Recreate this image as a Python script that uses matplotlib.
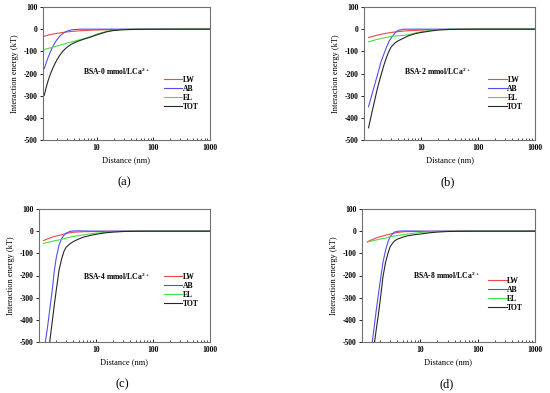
import matplotlib
matplotlib.use("Agg")
import matplotlib.pyplot as plt
from matplotlib.ticker import FixedLocator, LogLocator, NullFormatter

plt.rcParams['font.family'] = ['Liberation Serif', 'DejaVu Serif']
plt.rcParams['font.weight'] = 'bold'
plt.rcParams['axes.unicode_minus'] = False
plt.rcParams['mathtext.fontset'] = 'custom'
plt.rcParams['mathtext.rm'] = 'Liberation Serif:bold'
plt.rcParams['mathtext.bf'] = 'Liberation Serif:bold'

# --- distance grid (nm), shared by all panels ---
dist = [1.2, 1.3, 1.4, 1.55, 1.7, 1.85, 2, 2.25, 2.5, 2.75, 3, 3.5, 4,
        5, 6, 8, 10, 15, 20, 30, 50, 100, 1000]

# --- (a) BSA-0 mmol/L Ca2+ ---
lw_a = [-32, -29.5, -27, -24.5, -22, -20.5, -19, -17, -15, -13.7, -12.5, -10.7, -9.4,
        -7.5, -6.2, -4.7, -3.7, -2.5, -1.9, -1.2, -0.7, -0.4, 0]
ab_a = [-178, -151, -128, -100, -78, -61, -48, -32, -21, -14, -9, -4, -2,
        -0.3, 0, 0, 0, 0, 0, 0, 0, 0, 0]
el_a = [-92, -89, -87, -84, -81, -78.5, -76, -72.5, -69, -66, -63, -59, -55,
        -48, -43, -33, -23, -10, -5, -1.5, -0.3, 0, 0]
tot_a = [-298, -262, -233, -200, -176, -156, -139, -118, -102, -91, -82, -70, -62,
         -52, -45, -35, -26, -12, -6, -2.5, -1, -0.3, 0]

# --- (b) BSA-2 mmol/L Ca2+ ---
lw_b = [-38, -35.5, -33, -30, -27, -25, -23, -20.5, -18, -16.5, -15, -12.5, -11,
        -8.5, -7, -5.3, -4.2, -2.8, -2, -1.3, -0.8, -0.4, 0]
ab_b = [-350, -318, -288, -248, -211, -177, -145, -110, -80, -55, -40, -17, -5,
        -0.5, 0, 0, 0, 0, 0, 0, 0, 0, 0]
el_b = [-57, -54.5, -52, -49, -46, -44, -42, -39.5, -37, -35, -33, -31, -30,
        -28, -25, -17, -12, -5, -2, -0.5, 0, 0, 0]
tot_b = [-445, -405, -368, -318, -272, -236, -205, -160, -125, -98, -80, -62, -52,
         -40, -30, -20, -15, -8, -4, -1.5, -0.5, 0, 0]

# --- (c) BSA-4 mmol/L Ca2+ ---
lw_c = [-42, -38.5, -35, -31, -27, -24.5, -22, -19, -16, -13, -10, -7, -5,
        -3.5, -2.5, -1.8, -1.3, -0.8, -0.5, -0.3, 0, 0, 0]
ab_c = [-560, -495, -440, -350, -270, -183, -122, -62, -33, -18, -9, -1, 1,
        1.5, 1, 0.5, 0, 0, 0, 0, 0, 0, 0]
el_c = [-55, -53, -51, -48.5, -46, -44, -42, -39.5, -37, -34, -31, -27, -24,
        -20, -17, -12, -9, -5, -3, -1.2, -0.3, 0, 0]
tot_c = [-730, -655, -590, -495, -412, -335, -270, -175, -125, -90, -72, -57, -47,
         -35, -27, -19, -14, -7, -4, -1.5, -0.5, 0, 0]

# --- (d) BSA-8 mmol/L Ca2+ ---
lw_d = [-48, -44, -40, -35.5, -31, -28, -25, -21.5, -18, -15.5, -13, -9, -6,
        -3, -2, -1.3, -1, -0.6, -0.4, -0.2, 0, 0, 0]
ab_d = [-673, -605, -540, -450, -366, -295, -232, -140, -85, -48, -25, -5, -0.5,
        1, 1, 0.5, 0, 0, 0, 0, 0, 0, 0]
el_d = [-49, -47, -45, -42.5, -40, -38, -36, -33.5, -31, -28.5, -26, -22, -20,
        -16, -13, -9, -6, -3, -2, -1, -0.3, 0, 0]
tot_d = [-734, -670, -610, -530, -452, -385, -318, -205, -140, -100, -70, -46, -36,
         -27, -21, -16, -13, -7, -4, -1.5, -0.5, 0, 0]

panels = [
    ("(a)", "0", lw_a, ab_a, el_a, tot_a),
    ("(b)", "2", lw_b, ab_b, el_b, tot_b),
    ("(c)", "4", lw_c, ab_c, el_c, tot_c),
    ("(d)", "8", lw_d, ab_d, el_d, tot_d),
]

# axes boxes in pixels (left, top, right, bottom), x-limit left, text/legend anchors
W, H = 550, 393
boxes = [(43, 7, 210, 140), (364, 7, 535, 140), (39, 209, 210, 342), (362, 209, 535, 342)]
xleft = [1.14, 1.0, 1.0, 0.97]
note_xy = [(0.238, 0.52), (0.236, 0.52), (0.256, 0.496), (0.297, 0.50)]
leg_xy = [(0.725, 0.48), (0.727, 0.48), (0.731, 0.52), (0.73, 0.49)]

colors = {"LW": "#f04848", "AB": "#5050f0", "EL": "#44e044", "TOT": "#262626"}

fig = plt.figure(figsize=(W / 100, H / 100), dpi=100)

for i, (tag, conc, lw, ab, el, tot) in enumerate(panels):
    l, t, r, b = boxes[i]
    ax = fig.add_axes([l / W, 1 - b / H, (r - l) / W, (b - t) / H])
    for name, vals in (("LW", lw), ("AB", ab), ("EL", el), ("TOT", tot)):
        ax.plot(dist, vals, color=colors[name], lw=0.8, label=name)
    ax.set_xscale("log")
    ax.set_xlim(xleft[i], 1000)
    ax.set_ylim(-500, 100)
    ax.set_yticks(range(-500, 101, 100))
    ax.xaxis.set_major_locator(FixedLocator([10, 100, 1000]))
    ax.xaxis.set_minor_locator(LogLocator(base=10, subs=range(2, 10)))
    ax.xaxis.set_minor_formatter(NullFormatter())
    ax.set_xticklabels(["10", "100", "1000"])
    ax.tick_params(axis="x", direction="in", length=2.5, width=0.6, labelsize=5.5, pad=3)
    ax.tick_params(axis="x", which="minor", direction="in", length=1.5, width=0.5)
    ax.tick_params(axis="y", direction="out", length=2.5, width=0.6, labelsize=5.5, pad=1.5)
    for sp in ax.spines.values():
        sp.set_color("#707070")
        sp.set_linewidth(0.8)
    ax.set_xlabel("Distance (nm)", fontsize=6, labelpad=3)
    ax.set_ylabel("Interaction energy (kT)", fontsize=6, labelpad=3)
    ax.text(note_xy[i][0], note_xy[i][1], "BSA-%s mmol/LCa$^{2+}$" % conc,
            transform=ax.transAxes, fontsize=5.5, va="center", ha="left")
    ax.legend(loc="upper left", bbox_to_anchor=leg_xy[i], frameon=False, fontsize=5.5,
              handlelength=2.4, handletextpad=0.1, labelspacing=0.12,
              borderpad=0, borderaxespad=0)
    fig.text(((l + r) / 2 - 2) / W, 1 - (b + 42) / H, tag, fontsize=9,
             fontweight="normal", ha="center", va="center")

fig.savefig("out.png", dpi=100)
